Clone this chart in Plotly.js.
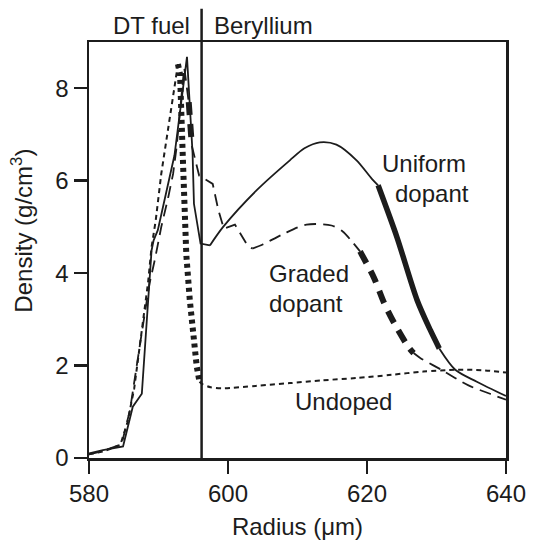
<!DOCTYPE html>
<html>
<head>
<meta charset="utf-8">
<script src="https://cdn.plot.ly/plotly-3.0.1.min.js"></script>
<style>html,body{margin:0;padding:0;background:#fff;}#chart{width:535px;height:550px;}</style>
</head>
<body>
<div id="chart"></div>
<script>
// ---- data ----
const uniformR = [580, 582, 584.9, 586.3, 587.6, 588.3, 589.0, 589.3, 589.9, 592.3, 593.2, 594.1, 594.9, 595.1, 596.05, 597.15, 597.4, 599.3, 604.1, 608.9, 611.0, 613.2, 615.6, 618.5, 620.7, 621.6, 624.3, 627.2, 629.1, 630.4, 632.7, 635.8, 640];
const uniformD = [0.10, 0.17, 0.25, 1.11, 1.39, 3.05, 4.49, 4.71, 4.93, 6.55, 7.65, 8.68, 6.60, 5.50, 4.64, 4.62, 4.60, 5.00, 5.79, 6.44, 6.70, 6.83, 6.78, 6.44, 6.04, 5.90, 4.78, 3.42, 2.77, 2.37, 1.91, 1.65, 1.34];
const uniformThick = [[621.6, 630.4]];
const uniformSmoothFrom = 597.4;

const gradedR = [580, 582, 584.7, 585.9, 587.5, 588.7, 589.5, 590.4, 591.4, 592.1, 592.6, 593.7, 594.35, 594.8, 595.85, 597.8, 598.6, 599.4, 601.0, 602.8, 603.5, 605.0, 608.0, 611.3, 614.9, 616.5, 617.8, 619.0, 621.0, 622.5, 624.2, 626.1, 626.7, 627.7, 630.8, 634.6, 637.7, 640];
const gradedD = [0.08, 0.15, 0.30, 1.04, 2.62, 3.77, 4.31, 5.00, 5.64, 6.15, 6.72, 8.45, 7.70, 6.75, 6.11, 5.93, 5.37, 4.96, 5.05, 4.60, 4.53, 4.62, 4.85, 5.05, 5.03, 4.90, 4.69, 4.47, 3.90, 3.34, 2.84, 2.37, 2.27, 2.16, 1.90, 1.57, 1.39, 1.26];
const gradedThick = [[594.35, 594.8], [619.0, 626.7]];
const gradedSmoothFrom = 603.5;

const undopedR = [580, 582, 584.5, 585.5, 586.5, 587.5, 588.5, 589.0, 589.6, 590.4, 591.4, 592.2, 592.8, 593.1, 593.5, 594.0, 594.5, 595.0, 595.5, 595.9, 596.3, 597.5, 599.3, 604.0, 608.9, 613.5, 618.5, 623.5, 628.1, 632.9, 636.5, 640];
const undopedD = [0.08, 0.14, 0.28, 0.75, 1.50, 2.60, 3.80, 4.56, 5.14, 6.15, 7.15, 8.00, 8.52, 8.30, 6.50, 4.40, 3.42, 2.55, 1.98, 1.65, 1.60, 1.53, 1.51, 1.56, 1.62, 1.68, 1.73, 1.80, 1.87, 1.91, 1.90, 1.85];
const undopedThick = [[592.8, 595.9]];
const undopedSmoothFrom = 595.9;

const interfaceR = 596.2;
const xTicks = [580, 600, 620, 640];
const yTicks = [0, 2, 4, 6, 8];

// ---- helpers ----
function split(rs, ds, ranges) {
  const thin = {x: [], y: []}, thick = {x: [], y: []};
  let lastThinR = null, lastK = -1;
  rs.forEach((r, i) => {
    const k = ranges.findIndex(([lo, hi]) => r >= lo && r <= hi);
    const strict = ranges.some(([lo, hi]) => r > lo && r < hi);
    if (!strict) {
      if (lastThinR !== null && ranges.some(([lo, hi]) => lastThinR <= lo && r >= hi)) {
        thin.x.push(null); thin.y.push(null);
      }
      thin.x.push(r); thin.y.push(ds[i]); lastThinR = r;
    }
    if (k >= 0) {
      if (lastK >= 0 && lastK !== k) { thick.x.push(null); thick.y.push(null); }
      thick.x.push(r); thick.y.push(ds[i]); lastK = k;
    }
  });
  return {thin, thick};
}
function splitAt(seg, at) {
  const lo = {x: [], y: []}, hi = {x: [], y: []};
  seg.x.forEach((r, i) => {
    if (r === null) { lo.x.push(null); lo.y.push(null); hi.x.push(null); hi.y.push(null); return; }
    if (r <= at) { lo.x.push(r); lo.y.push(seg.y[i]); }
    if (r >= at) { hi.x.push(r); hi.y.push(seg.y[i]); }
  });
  return {lo, hi};
}

const INK = '#1c1c1c';
const FONT = '"Liberation Sans", Arial, Helvetica, sans-serif';

function tr(seg, width, dash, shape) {
  return {x: seg.x, y: seg.y, type: 'scatter', mode: 'lines', connectgaps: false,
    line: {color: INK, width: width, dash: dash, shape: shape, smoothing: 0.8}, hoverinfo: 'skip'};
}
function series(rs, ds, ranges, smoothFrom, thinW, thinDash, thickW, thickDash) {
  const s = split(rs, ds, ranges);
  const a = splitAt(s.thin, smoothFrom), b = splitAt(s.thick, smoothFrom);
  return {
    thin: [tr(a.lo, thinW, thinDash, 'linear'), tr(a.hi, thinW, thinDash, 'spline')],
    thick: [tr(b.lo, thickW, thickDash, 'linear'), tr(b.hi, thickW, thickDash, 'spline')]
  };
}

const n = series(undopedR, undopedD, undopedThick, undopedSmoothFrom, 2, '5px,4px', 6, '4px,4px');
const g = series(gradedR, gradedD, gradedThick, gradedSmoothFrom, 1.8, '12px,7px', 6, '13px,9px');
const u = series(uniformR, uniformD, uniformThick, uniformSmoothFrom, 1.8, 'solid', 5.5, 'solid');

const traces = [].concat(n.thin, g.thin, u.thin, n.thick, g.thick, u.thick);

const txt = (text, x, y, xanchor, yref) => ({
  text: text, x: x, y: y, xref: 'x', yref: yref || 'y', xanchor: xanchor || 'left', yanchor: 'middle',
  showarrow: false, font: {family: FONT, size: 24, color: INK}
});

const layout = {
  width: 535, height: 550,
  margin: {l: 89, r: 29, t: 42, b: 92, pad: 0},
  paper_bgcolor: '#fff', plot_bgcolor: '#fff',
  showlegend: false,
  font: {family: FONT, size: 24, color: INK},
  xaxis: {
    range: [580, 640], tickvals: xTicks, ticktext: xTicks.map(String),
    ticks: 'outside', ticklen: 13, tickwidth: 2.5, tickcolor: INK,
    showline: true, linewidth: 2.5, linecolor: INK, mirror: true,
    showgrid: false, zeroline: false,
    tickfont: {family: FONT, size: 24, color: INK},
    title: {text: 'Radius (\u03bcm)', font: {family: FONT, size: 24, color: INK}, standoff: 12}
  },
  yaxis: {
    range: [0, 9], tickvals: yTicks, ticktext: yTicks.map(String),
    ticks: 'outside', ticklen: 13, tickwidth: 2.5, tickcolor: INK,
    showline: true, linewidth: 2.5, linecolor: INK, mirror: true,
    showgrid: false, zeroline: false,
    tickfont: {family: FONT, size: 24, color: INK}
  },
  shapes: [
    {type: 'line', xref: 'x', yref: 'paper', x0: interfaceR, x1: interfaceR, y0: 0, y1: 1.08,
     line: {color: INK, width: 2.5}}
  ],
  annotations: [
    txt('DT fuel', 594.75, 1.04, 'right', 'paper'),
    txt('Beryllium', 597.64, 1.04, 'left', 'paper'),
    txt('Uniform', 621.86, 6.38),
    txt('dopant', 623.8, 5.72),
    txt('Graded', 605.56, 3.99),
    txt('dopant', 605.56, 3.34),
    txt('Undoped', 609.4, 1.22),
    {text: 'Density (g/cm<sup>3</sup>)', xref: 'paper', yref: 'paper', x: -0.1616, y: 0.5456,
     xanchor: 'center', yanchor: 'middle', textangle: -90, showarrow: false,
     font: {family: FONT, size: 24, color: INK}}
  ]
};

Plotly.newPlot('chart', traces, layout, {staticPlot: true, displayModeBar: false});
</script>
</body>
</html>
